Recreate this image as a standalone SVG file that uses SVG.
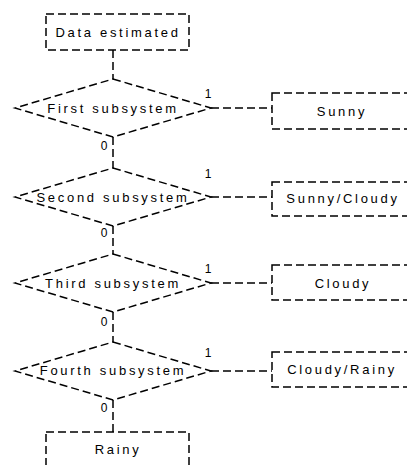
<svg xmlns="http://www.w3.org/2000/svg" width="407" height="465" viewBox="0 0 407 465">
<style>
.s{fill:#fff;stroke:#000;stroke-width:1.5;stroke-dasharray:8,4}
.c{fill:none;stroke:#000;stroke-width:1.5;stroke-dasharray:8,4}
.t{font-family:"Liberation Sans",Arial,sans-serif;font-size:13px;letter-spacing:2.7px;text-anchor:middle;fill:#000}
.l{font-family:"Liberation Sans",Arial,sans-serif;font-size:12px;text-anchor:middle;fill:#000}
</style>
<rect width="407" height="465" fill="#fff"/>
<g id="connectors">
<path class="c" d="M113 50V79M113 137V168M113 226V254M113 312V342M113 400V432"/>
<path class="c" d="M211 108H272M211 197H272M211 283H272M211 371H272"/>
<text class="l" x="208" y="98">1</text>
<text class="l" x="104" y="150">0</text>
<text class="l" x="208" y="178">1</text>
<text class="l" x="104" y="237">0</text>
<text class="l" x="208" y="273">1</text>
<text class="l" x="104" y="326">0</text>
<text class="l" x="208" y="357">1</text>
<text class="l" x="104" y="412">0</text>
</g>
<g id="start">
<rect class="s" x="46" y="14" width="143" height="36"/>
<text class="t" x="118" y="37">Data estimated</text>
</g>
<g id="d1">
<polygon class="s" points="113,79 211,108 113,137 15,108"/>
<text class="t" x="113" y="113">First subsystem</text>
</g>
<g id="d2">
<polygon class="s" points="113,168 211,197 113,226 15,197"/>
<text class="t" x="113" y="202">Second subsystem</text>
</g>
<g id="d3">
<polygon class="s" points="113,254 211,283 113,312 15,283"/>
<text class="t" x="113" y="288">Third subsystem</text>
</g>
<g id="d4">
<polygon class="s" points="113,342 211,371 113,400 15,371"/>
<text class="t" x="113" y="375">Fourth subsystem</text>
</g>
<g id="sunny">
<rect class="s" x="272" y="93" width="136" height="36"/>
<text class="t" x="342" y="116">Sunny</text>
</g>
<g id="sunnycloudy">
<rect class="s" x="272" y="182" width="136" height="34"/>
<text class="t" x="343" y="203">Sunny/Cloudy</text>
</g>
<g id="cloudy">
<rect class="s" x="272" y="265" width="136" height="35"/>
<text class="t" x="343" y="288">Cloudy</text>
</g>
<g id="cloudyrainy">
<rect class="s" x="272" y="352" width="136" height="35"/>
<text class="t" x="342" y="374">Cloudy/Rainy</text>
</g>
<g id="rainy">
<rect class="s" x="46" y="432" width="143" height="36"/>
<text class="t" x="118" y="454">Rainy</text>
</g>
</svg>
